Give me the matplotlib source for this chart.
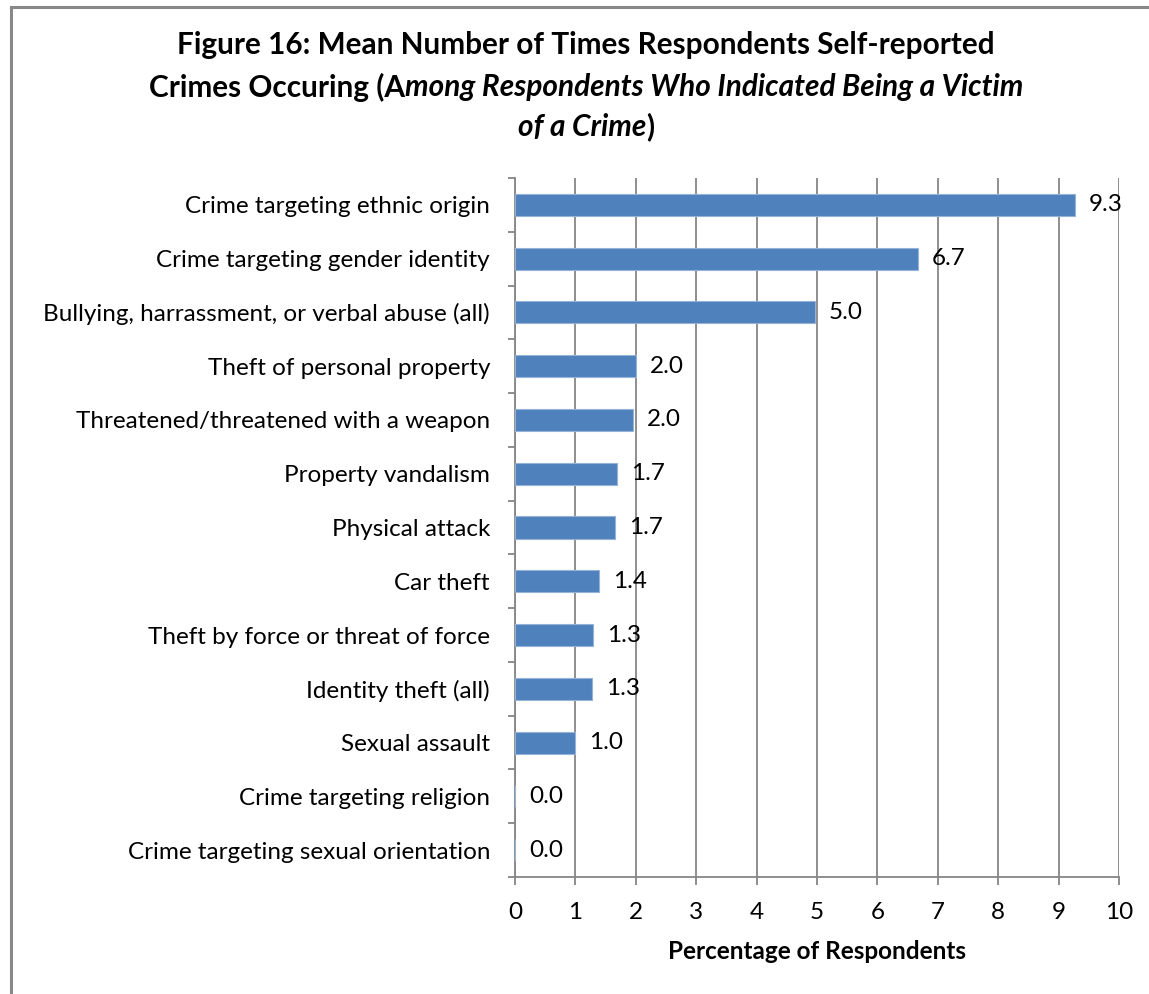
import matplotlib.pyplot as plt
import numpy as np
from matplotlib.patches import Rectangle

categories = [
    "Crime targeting ethnic origin",
    "Crime targeting gender identity",
    "Bullying, harrassment, or verbal abuse (all)",
    "Theft of personal property",
    "Threatened/threatened with a weapon",
    "Property vandalism",
    "Physical attack",
    "Car theft",
    "Theft by force or threat of force",
    "Identity theft (all)",
    "Sexual assault",
    "Crime targeting religion",
    "Crime targeting sexual orientation",
]
values = [9.27, 6.67, 4.97, 2.0, 1.95, 1.69, 1.66, 1.39, 1.29, 1.27, 1.0, 0.0, 0.0]
labels = ["9.3", "6.7", "5.0", "2.0", "2.0", "1.7", "1.7", "1.4", "1.3", "1.3", "1.0", "0.0", "0.0"]
xticks = list(range(0, 11))

FONT = "Lato"
GRID = "#868686"
FS = 17.5

plt.rcParams["font.family"] = [FONT, "DejaVu Sans"]

W, H = 1149, 994
fig = plt.figure(figsize=(W / 100, H / 100), dpi=100)

# chart border (only top and left visible in the original crop)
fig.patches.append(Rectangle((11 / W, -0.1), 1.2, 1 - 6.5 / H + 0.1,
                             transform=fig.transFigure, fill=False,
                             edgecolor="#888888", lw=2.2))

ax = fig.add_axes([515 / W, 1 - 877 / H, (1119 - 515) / W, (877 - 178) / H])

n = len(categories)
y = np.arange(n)
ax.barh(y, values, height=0.41, color="#4F81BD", edgecolor="#95B3D7",
        lw=0.8, zorder=3)
for yi, v, lab in zip(y, values, labels):
    ax.annotate(lab, (v, yi), xytext=(10, 0), textcoords="offset points",
                va="center", ha="left", fontsize=FS, zorder=4)

ax.set_xlim(0, 10)
ax.set_ylim(n - 0.5, -0.5)
ax.set_xticks(xticks)
ax.set_xticklabels([str(t) for t in xticks], fontsize=FS)
ax.set_yticks(y)
ax.set_yticklabels(categories, fontsize=FS)
ax.set_yticks(np.arange(-0.5, n, 1), minor=True)
ax.tick_params(axis="y", which="major", length=0, pad=18)
ax.tick_params(axis="y", which="minor", length=5, color=GRID, width=1.3)
ax.tick_params(axis="x", length=6, color=GRID, width=1.3, pad=12)
ax.grid(axis="x", color=GRID, lw=1.3, zorder=0)
for s in ["top", "right"]:
    ax.spines[s].set_visible(False)
for s in ["left", "bottom"]:
    ax.spines[s].set_color(GRID)
    ax.spines[s].set_linewidth(1.3)
ax.set_xlabel("Percentage of Respondents", fontsize=FS, fontweight="bold",
              labelpad=12)


def rich_line(runs, xc, yc, size):
    # place mixed-style runs centred at xc (figure fraction)
    r = fig.canvas.get_renderer()
    texts = []
    for s, style in runs:
        t = fig.text(0, yc, s, fontsize=size, fontweight="bold",
                     fontstyle=style, ha="left", va="center")
        texts.append(t)
    widths = [t.get_window_extent(r).width / W for t in texts]
    x = xc - sum(widths) / 2
    for t, w in zip(texts, widths):
        t.set_x(x)
        x += w


xc = 586 / W
TS = 21.4
rich_line([("Figure 16: Mean Number of Times Respondents Self-reported", "normal")],
          xc, 1 - 45 / H, TS)
rich_line([("Crimes Occuring (A", "normal"),
           ("mong Respondents Who Indicated Being a Victim", "italic")],
          xc, 1 - 87 / H, TS)
rich_line([("of a Crime", "italic"), (")", "normal")], xc, 1 - 127 / H, TS)

fig.savefig("out.png", dpi=100)
